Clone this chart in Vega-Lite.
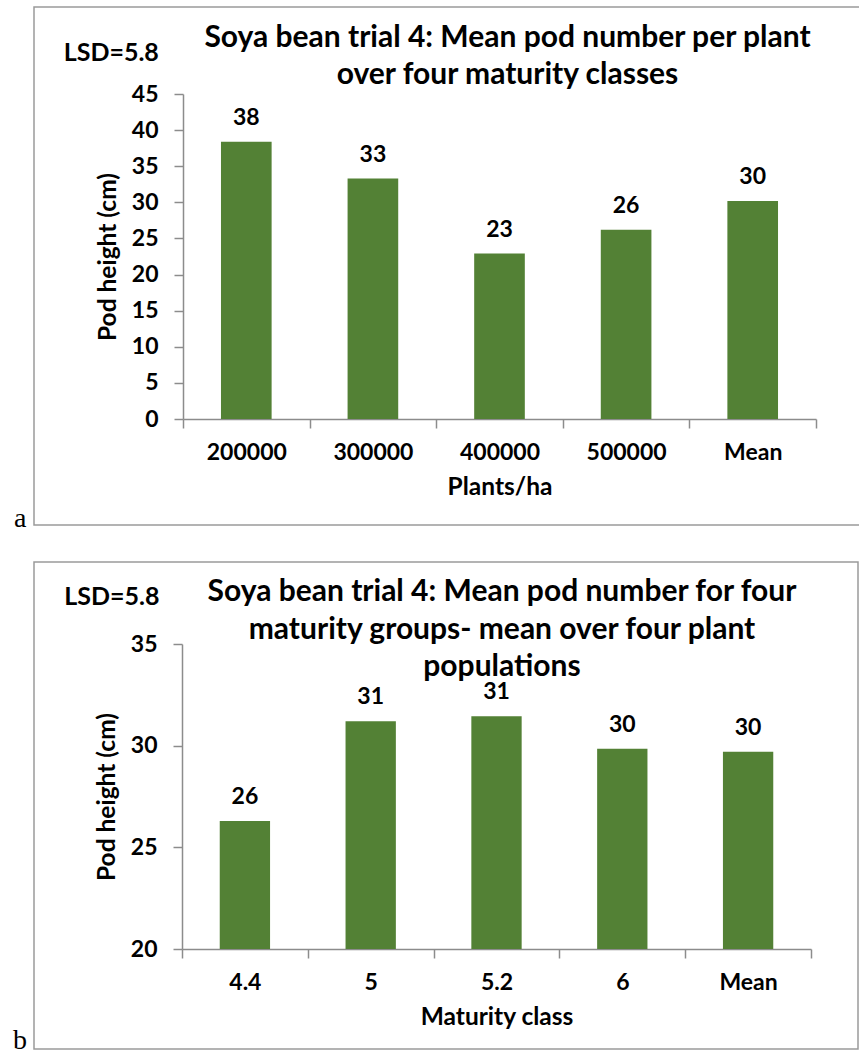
{
  "$schema": "https://vega.github.io/schema/vega-lite/v6.json",
  "padding": {"left": 12, "top": 6, "right": 0, "bottom": 0},
  "background": "white",
  "spacing": 27,
  "config": {
    "font": "Lato",
    "view": {"stroke": "#9a9a9a", "strokeWidth": 1.5},
    "axis": {
      "grid": false,
      "domainColor": "#8c8c8c", "domainWidth": 1.5,
      "tickColor": "#8c8c8c", "tickWidth": 1.5, "tickSize": 9,
      "labelFont": "Lato", "labelFontWeight": "bold", "labelFontSize": 23, "labelColor": "black",
      "titleFont": "Lato", "titleFontWeight": "bold", "titleFontSize": 24.5, "titleColor": "black"
    },
    "title": {"font": "Lato", "fontWeight": "bold", "fontSize": 30, "color": "black", "lineHeight": 37.5}
  },
  "vconcat": [
    {
      "width": 827,
      "height": 518,
      "title": {"text": ["Soya bean trial 4: Mean pod number per plant", "over four maturity classes"], "anchor": "middle", "offset": -83, "dx": 60},
      "data": {"values": [
        {"density": "200000", "pods": 38.4},
        {"density": "300000", "pods": 33.3},
        {"density": "400000", "pods": 22.9},
        {"density": "500000", "pods": 26.2},
        {"density": "Mean", "pods": 30.2}
      ]},
      "layer": [
        {
          "mark": {"type": "bar", "color": "#538135", "width": {"band": 0.4}},
          "encoding": {
            "x": {"field": "density", "type": "nominal", "sort": null,
                  "scale": {"range": [149, 782], "paddingInner": 0, "paddingOuter": 0},
                  "axis": {"title": "Plants/ha", "labelAngle": 0, "offset": -106, "tickBand": "extent", "labelPadding": 13, "titlePadding": 11}},
            "y": {"field": "pods", "type": "quantitative",
                  "scale": {"domain": [0, 45], "range": [412, 87], "nice": false, "zero": false},
                  "axis": {"title": "Pod height (cm)", "values": [0, 5, 10, 15, 20, 25, 30, 35, 40, 45], "offset": -149, "labelPadding": 16, "titlePadding": 11}},
            "y2": {"datum": 0}
          }
        },
        {
          "mark": {"type": "text", "baseline": "alphabetic", "dy": -17, "fontSize": 23, "fontWeight": "bold", "color": "black"},
          "encoding": {
            "x": {"field": "density", "type": "nominal", "sort": null},
            "y": {"field": "pods", "type": "quantitative"},
            "text": {"field": "pods", "type": "quantitative", "format": ".0f"}
          }
        },
        {
          "data": {"values": [{"note": "LSD=5.8"}]},
          "mark": {"type": "text", "baseline": "alphabetic", "align": "center", "dx": -135, "fontSize": 25, "fontWeight": "bold", "color": "black"},
          "encoding": {
            "x": {"datum": "200000", "type": "nominal"},
            "y": {"datum": 49.6, "type": "quantitative"},
            "text": {"field": "note"}
          }
        },
        {
          "data": {"values": [{"panel": "a"}]},
          "mark": {"type": "text", "baseline": "alphabetic", "align": "center", "dx": -226, "fontSize": 28, "font": "Liberation Serif", "color": "black"},
          "encoding": {
            "x": {"datum": "200000", "type": "nominal"},
            "y": {"datum": -14.95, "type": "quantitative"},
            "text": {"field": "panel"}
          }
        }
      ]
    },
    {
      "width": 824,
      "height": 487,
      "title": {"text": ["Soya bean trial 4: Mean pod number for four", "maturity groups- mean over four plant", "populations"], "anchor": "middle", "offset": -120, "dx": 56},
      "data": {"values": [
        {"maturity": "4.4", "pods": 26.3},
        {"maturity": "5", "pods": 31.2},
        {"maturity": "5.2", "pods": 31.45},
        {"maturity": "6", "pods": 29.85},
        {"maturity": "Mean", "pods": 29.7}
      ]},
      "layer": [
        {
          "mark": {"type": "bar", "color": "#538135", "width": {"band": 0.4}},
          "encoding": {
            "x": {"field": "maturity", "type": "nominal", "sort": null,
                  "scale": {"range": [148, 777], "paddingInner": 0, "paddingOuter": 0},
                  "axis": {"title": "Maturity class", "labelAngle": 0, "offset": -100, "tickBand": "extent", "labelPadding": 13, "titlePadding": 11}},
            "y": {"field": "pods", "type": "quantitative",
                  "scale": {"domain": [20, 35], "range": [387, 82], "nice": false, "zero": false},
                  "axis": {"title": "Pod height (cm)", "values": [20, 25, 30, 35], "offset": -148, "labelPadding": 16, "titlePadding": 11}},
            "y2": {"datum": 20}
          }
        },
        {
          "mark": {"type": "text", "baseline": "alphabetic", "dy": -17, "fontSize": 23, "fontWeight": "bold", "color": "black"},
          "encoding": {
            "x": {"field": "maturity", "type": "nominal", "sort": null},
            "y": {"field": "pods", "type": "quantitative"},
            "text": {"field": "pods", "type": "quantitative", "format": ".0f"}
          }
        },
        {
          "data": {"values": [{"note": "LSD=5.8"}]},
          "mark": {"type": "text", "baseline": "alphabetic", "align": "center", "dx": -133, "fontSize": 25, "fontWeight": "bold", "color": "black"},
          "encoding": {
            "x": {"datum": "4.4", "type": "nominal"},
            "y": {"datum": 36.92, "type": "quantitative"},
            "text": {"field": "note"}
          }
        },
        {
          "data": {"values": [{"panel": "b"}]},
          "mark": {"type": "text", "baseline": "alphabetic", "align": "center", "dx": -225, "fontSize": 28, "font": "Liberation Serif", "color": "black"},
          "encoding": {
            "x": {"datum": "4.4", "type": "nominal"},
            "y": {"datum": 15.08, "type": "quantitative"},
            "text": {"field": "panel"}
          }
        }
      ]
    }
  ]
}
